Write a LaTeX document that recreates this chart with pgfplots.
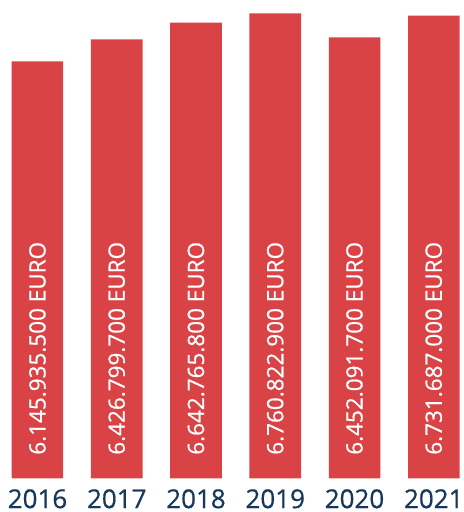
\documentclass[border=0pt]{standalone}
\usepackage{pgfplots}
\pgfplotsset{compat=1.18}
\usepackage{fontspec}
\setmainfont{Open Sans}
\newfontfamily\medfont{Open Sans}[FakeBold=0.6]
\definecolor{barred}{HTML}{D94345}
\definecolor{navy}{HTML}{17385A}
\begin{document}
\begin{tikzpicture}
\begin{axis}[
  anchor=south west, at={(0,0)},
  scale only axis, width=460pt, height=478.3pt,
  xmin=-0.473, xmax=5.331,
  ymin=800000, ymax=6932000,
  axis line style={draw=none}, tick style={draw=none},
  ytick=\empty,
  xtick={0,1,2,3,4,5},
  xticklabels={2016,2017,2018,2019,2020,2021},
  xticklabel style={anchor=base, inner sep=0pt, yshift=-29.8pt, font=\medfont\fontsize{26}{26}\selectfont, text=navy},
  clip=false,
  /pgf/number format/assume math mode=true,
]
\addplot[ybar, bar width=0.65, fill=barred, draw=none] coordinates {
  (0,6145935.5) (1,6426799.7) (2,6642765.8) (3,6760822.9) (4,6452091.7) (5,6731687.0)
};
\addplot[only marks, mark=none, point meta=explicit symbolic,
  nodes near coords,
  every node near coord/.style={rotate=90, anchor=west, inner sep=0pt, text=white, font=\medfont\fontsize{22.5}{22.5}\selectfont}]
  table[meta=label] {
x y label
0 1100000 {6.145.935.500 EURO}
1 1100000 {6.426.799.700 EURO}
2 1100000 {6.642.765.800 EURO}
3 1100000 {6.760.822.900 EURO}
4 1100000 {6.452.091.700 EURO}
5 1100000 {6.731.687.000 EURO}
};
\end{axis}
\path (0,-33.7pt) rectangle (460pt,478.3pt);
\end{tikzpicture}
\end{document}
